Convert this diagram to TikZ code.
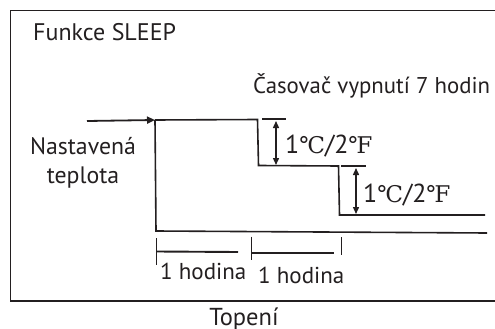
\documentclass[tikz,border=0pt]{standalone}
\usepackage{fontspec}
\setmainfont{PT Sans}
\newfontfamily\symfont{DejaVu Serif}
\usetikzlibrary{arrows.meta}
\definecolor{ink}{HTML}{231F20}
\tikzset{
  lbl/.style={inner sep=0pt, anchor=base west, text=ink},
  frameline/.style={draw=ink, line width=1.9pt},
  curve/.style={draw=ink, line width=1.6pt},
  tick/.style={draw=ink, line width=1.9pt},
  dblarrow/.style={draw=ink, line width=1.4pt, {Triangle[length=7pt,width=6pt]}-{Triangle[length=7pt,width=6pt]}},
  inarrow/.style={draw=ink, line width=1.8pt, -{Triangle[length=8pt,width=7pt]}}
}
\newcommand{\degtxt}{{\fontsize{26}{26}\selectfont 1{\symfont\fontsize{23}{23}\selectfont ℃}/2{\symfont\fontsize{23}{23}\selectfont ℉}}}
\begin{document}
\begin{tikzpicture}[x=1pt,y=-1pt]
\useasboundingbox (0,0) rectangle (495,329);
% frame
\coordinate (ftr) at (495,10.5);
\coordinate (ftl) at (10.5,10.5);
\coordinate (fbl) at (10.5,301);
\coordinate (fbr) at (495,301);
\draw[frameline] (ftr) -- (ftl) -- (fbl) -- (fbr);
% texts
\node[lbl, font=\fontsize{24}{24}\selectfont] (title) at (33,41) {Funkce SLEEP};
\node[lbl, font=\fontsize{22.8}{22.8}\selectfont] (timer) at (253,93) {Časovač vypnutí 7 hodin};
\node[inner sep=0pt, anchor=base, text=ink, font=\fontsize{23.8}{23.8}\selectfont] (set1) at (83,154) {Nastavená};
\node[inner sep=0pt, anchor=base, text=ink, font=\fontsize{23.8}{23.8}\selectfont] (set2) at (83,183) {teplota};
\node[lbl] (deg1) at (285,153) {\degtxt};
\node[lbl] (deg2) at (363,202) {\degtxt};
\node[lbl, font=\fontsize{23}{23}\selectfont] (h1) at (160,279) {1 hodina};
\node[lbl, font=\fontsize{23}{23}\selectfont] (h2) at (258,283) {1 hodina};
\node[inner sep=0pt, anchor=base, text=ink, font=\fontsize{24.5}{24.5}\selectfont] (heat) at (244,325) {Topení};
% set point arrow
\coordinate (a0) at (87,121);
\coordinate (s0) at (155,120);
\draw[inarrow] (a0) -- (s0);
% step curve
\coordinate (s1) at (257.5,119.5);
\coordinate (s2) at (258.5,165.5);
\coordinate (s3) at (338.5,166);
\coordinate (s4) at (339.5,215);
\coordinate (s5) at (485,215);
\draw[curve] (s0) -- (s1) -- (s2) -- (s3) -- (s4) -- (s5);
% base line
\coordinate (b1) at (156,231);
\coordinate (b2) at (487,233);
\draw[curve] (s0) -- (b1) -- (b2);
% difference markers
\coordinate (m1a) at (262,119);
\coordinate (m1b) at (286,119);
\draw[tick] (m1a) -- (m1b);
\coordinate (m2a) at (341,166);
\coordinate (m2b) at (366,166);
\draw[tick] (m2a) -- (m2b);
\coordinate (d1a) at (276,121);
\coordinate (d1b) at (276,165);
\draw[dblarrow] (d1a) -- (d1b);
\coordinate (d2a) at (356,168);
\coordinate (d2b) at (356,214);
\draw[dblarrow] (d2a) -- (d2b);
% hour brackets
\coordinate (t1a) at (156.5,238);
\coordinate (t1b) at (156.5,265);
\draw[tick] (t1a) -- (t1b);
\coordinate (l1a) at (156.5,251.5);
\coordinate (l1b) at (238,252);
\draw[tick] (l1a) -- (l1b);
\coordinate (t2a) at (251.5,236.5);
\coordinate (t2b) at (251.5,260);
\draw[tick] (t2a) -- (t2b);
\coordinate (l2a) at (251.5,253);
\coordinate (l2b) at (334,253);
\draw[tick] (l2a) -- (l2b);
\coordinate (t3a) at (341.5,237);
\coordinate (t3b) at (341.5,255);
\draw[tick] (t3a) -- (t3b);
\end{tikzpicture}
\end{document}
